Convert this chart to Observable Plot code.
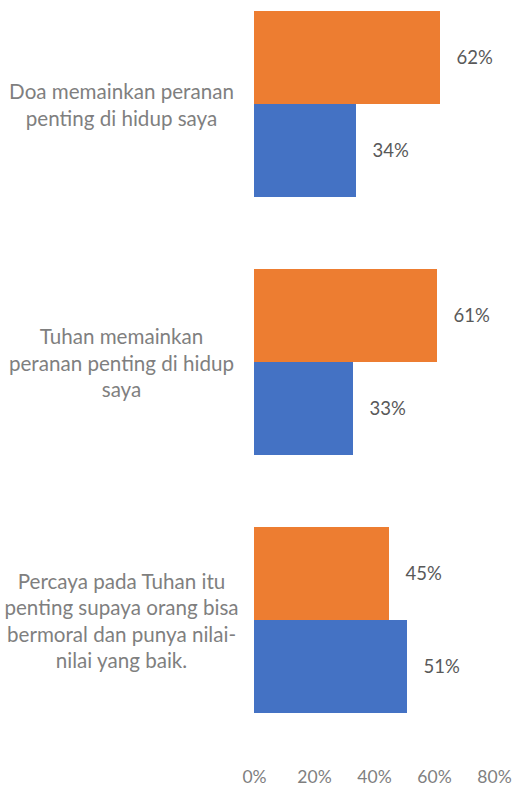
<!DOCTYPE html>
<html>
<head>
<meta charset="utf-8">
<script src="https://cdn.jsdelivr.net/npm/d3@7"></script>
<script src="https://cdn.jsdelivr.net/npm/@observablehq/plot@0.6"></script>
<style>
  html, body { margin: 0; padding: 0; background: #fff; }
  #chart svg { display: block; }
</style>
</head>
<body>
<div id="chart"></div>
<script>
const categories = [
  "Doa memainkan peranan\npenting di hidup saya",
  "Tuhan memainkan\nperanan penting di hidup\nsaya",
  "Percaya pada Tuhan itu\npenting supaya orang bisa\nbermoral dan punya nilai-\nnilai yang baik."
];
const seriesNames = ["Seri 1", "Seri 2"];
const series1 = [62, 61, 45];
const series2 = [34, 33, 51];
const xTicks = [0, 20, 40, 60, 80];
const colors = ["#ED7D31", "#4472C4"];

const data = [];
categories.forEach((c, i) => {
  data.push({category: c, series: seriesNames[0], value: series1[i]});
  data.push({category: c, series: seriesNames[1], value: series2[i]});
});

const chart = Plot.plot({
  width: 514,
  height: 786,
  marginLeft: 254,
  marginRight: 20,
  marginTop: 0,
  marginBottom: 63,
  style: {fontFamily: "Lato, 'Open Sans', sans-serif", background: "#fff"},
  x: {domain: [0, 80], ticks: xTicks, label: null},
  y: {domain: seriesNames, paddingInner: 0, paddingOuter: 0, axis: null},
  fy: {domain: categories, paddingInner: 0.274, paddingOuter: 0.034, label: null},
  color: {domain: seriesNames, range: colors},
  marks: [
    Plot.barX(data, {x: "value", y: "series", fy: "category", fill: "series", inset: 0}),
    Plot.text(data, {x: "value", y: "series", fy: "category", text: d => d.value + "%",
      textAnchor: "start", dx: 16, fill: "#595959", fontSize: 18.5}),
    Plot.axisX({anchor: "bottom", ticks: xTicks, tickSize: 0, tickPadding: 57,
      tickFormat: d => d + "%", fontSize: 17.5, fill: "#7F7F7F", label: null}),
    Plot.axisFy({anchor: "left", tickSize: 0, tickPadding: 133, textAnchor: "middle",
      fontSize: 20.6, fill: "#7F7F7F", label: null, lineHeight: 1.29})
  ]
});
document.getElementById("chart").appendChild(chart);
</script>
</body>
</html>
